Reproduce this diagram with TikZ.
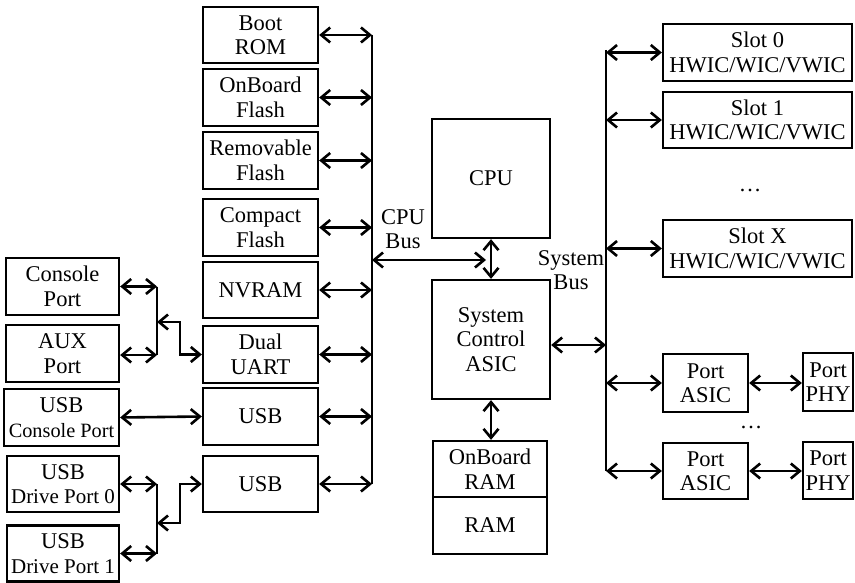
\documentclass[tikz,border=0pt]{standalone}
\usepackage{fontspec}
\setmainfont{Liberation Serif}
\usetikzlibrary{arrows.meta}
\newcommand{\fs}{\fontsize{22.5}{24.5}\selectfont}
\newcommand{\fsnarrow}{\fontsize{20.3}{24.5}\selectfont}
\newcommand{\fsdrive}{\fontsize{21}{24.5}\selectfont}
\tikzset{
  box/.style={draw, line width=2.3pt, inner sep=0pt, align=center, font=\fs},
  lbl/.style={inner sep=0pt, align=center, font=\fs},
  conn/.style={line width=2.6pt, {Straight Barb[length=9pt,width=15pt]}-{Straight Barb[length=9pt,width=15pt]}},
  busline/.style={line width=2.6pt},
  plain/.style={line width=2.6pt}
}
\begin{document}
\begin{tikzpicture}[x=1pt,y=-1pt]
\useasboundingbox (0,0) rectangle (855,583);
% memory column
\node[box, minimum width=115, minimum height=56] (bootrom) at (260.5,35) {Boot\\ROM};
\node[box, minimum width=115, minimum height=57] (obflash) at (260.5,97.5) {OnBoard\\Flash};
\node[box, minimum width=115, minimum height=57] (remflash) at (260.5,160.5) {Removable\\Flash};
\node[box, minimum width=115, minimum height=57] (cflash) at (260.5,227.5) {Compact\\Flash};
\node[box, minimum width=115, minimum height=56] (nvram) at (260.5,290) {NVRAM};
\node[box, minimum width=115, minimum height=57] (uart) at (260.5,354.5) {Dual\\UART};
\node[box, minimum width=115, minimum height=57] (usbA) at (260.5,416.5) {USB};
\node[box, minimum width=115, minimum height=56] (usbB) at (260.5,484) {USB};
% CPU bus
\coordinate (bustop) at (372,35);
\coordinate (busbot) at (372,484);
\draw[busline] (bustop) -- (busbot);
\foreach \n in {bootrom,obflash,remflash,cflash,nvram,uart,usbA,usbB}
  \draw[conn] (\n.east) -- (\n.east -| bustop);
\node[lbl] (cpubuslbl) at (403,229) {CPU\\Bus};
% left ports
\node[box, minimum width=113, minimum height=57] (console) at (62.5,286.5) {Console\\Port};
\node[box, minimum width=113, minimum height=57] (aux) at (62.5,353.5) {AUX\\Port};
\node[box, minimum width=115, minimum height=57] (usbcon) at (61.5,417.5) {USB\\{\fsnarrow Console Port}};
\node[box, minimum width=112, minimum height=56] (drive0) at (63,484) {USB\\{\fsdrive Drive Port 0}};
\node[box, minimum width=112, minimum height=56] (drive1) at (63,553.5) {USB\\{\fsdrive Drive Port 1}};
\coordinate (jA1) at (157,286.5);
\coordinate (jA2) at (157,355);
\coordinate (jAm) at (157,322);
\coordinate (jAk) at (180,322);
\draw[conn] (console.east) -- (jA1);
\draw[conn] ([yshift=-1.5pt]aux.east) -- (jA2);
\draw[plain] (jA1) -- (jA2);
\draw[conn] (jAm) -- (jAk) |- (uart.west);
\draw[conn] (usbcon.east) -- (usbA.west);
\coordinate (jB1) at (157,484);
\coordinate (jB2) at (157,553.5);
\coordinate (jBm) at (157,523);
\coordinate (jBk) at (180,523);
\draw[conn] (drive0.east) -- (jB1);
\draw[conn] (drive1.east) -- (jB2);
\draw[plain] (jB1) -- (jB2);
\draw[conn] (jBm) -- (jBk) |- (usbB.west);
% CPU / ASIC / RAM
\node[box, minimum width=118, minimum height=119] (cpu) at (491,178.5) {CPU};
\node[box, minimum width=118, minimum height=119] (asic) at (491,339.5) {System\\Control\\ASIC};
\node[box, minimum width=114, minimum height=56] (obram) at (490,469) {OnBoard\\RAM};
\node[box, minimum width=114, minimum height=57] (ram) at (490,525.5) {RAM};
\draw[conn] (cpu.south) -- (asic.north);
\draw[conn] (asic.south) -- (asic.south |- obram.north);
\coordinate (cbend) at (486,260);
\draw[conn] (cbend -| bustop) -- (cbend);
% system bus
\coordinate (sbtop) at (606,50);
\coordinate (sbbot) at (606,471);
\draw[busline] (sbtop) -- (sbbot);
\draw[conn] ([yshift=-5.5pt]asic.east) -- ([yshift=-5.5pt]asic.east -| sbtop);
\node[lbl] (sysbuslbl) at (571,270) {System\\Bus};
% slots
\node[box, minimum width=189, minimum height=57] (slot0) at (757.5,52.5) {Slot 0\\HWIC/WIC/VWIC};
\node[box, minimum width=189, minimum height=56] (slot1) at (757.5,120) {Slot 1\\HWIC/WIC/VWIC};
\node[box, minimum width=189, minimum height=57] (slotx) at (757.5,248.5) {Slot X\\HWIC/WIC/VWIC};
\node[lbl] (dotsA) at (750,190) {…};
\foreach \n in {slot0,slot1,slotx}
  \draw[conn] (\n.west -| sbtop) -- (\n.west);
% ports
\node[box, minimum width=85, minimum height=58] (pa1) at (705.5,383) {Port\\ASIC};
\node[box, minimum width=85, minimum height=56] (pa2) at (705.5,471) {Port\\ASIC};
\node[box, minimum width=50, minimum height=58] (phy1) at (828,382) {Port\\PHY};
\node[box, minimum width=50, minimum height=57] (phy2) at (828,470.5) {Port\\PHY};
\node[lbl] (dotsB) at (751,427) {…};
\draw[conn] (pa1.west -| sbtop) -- (pa1.west);
\draw[conn] (pa2.west -| sbtop) -- (pa2.west);
\draw[conn] (pa1.east) -- (pa1.east -| phy1.west);
\draw[conn] (pa2.east) -- (pa2.east -| phy2.west);
\end{tikzpicture}
\end{document}
